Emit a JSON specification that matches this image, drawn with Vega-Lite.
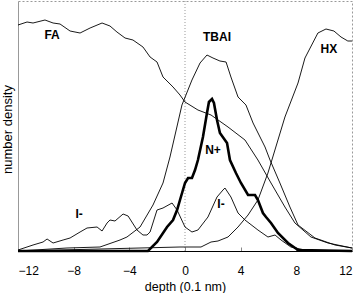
{
  "$schema": "https://vega.github.io/schema/vega-lite/v6.json",
  "width": 334,
  "height": 250,
  "autosize": {"type": "none"},
  "padding": {"left": 18, "top": 1, "right": 6, "bottom": 42},
  "background": "white",
  "config": {
    "view": {"stroke": "#999", "strokeDash": [2, 2], "strokeWidth": 1},
    "font": "Liberation Sans",
    "axis": {"labelFont": "Liberation Sans", "titleFont": "Liberation Sans", "grid": false}
  },
  "datasets": {
    "curves": [
      {"s": "FA", "x": -12, "y": 226}, {"s": "FA", "x": -11.35, "y": 229}, {"s": "FA", "x": -10.92, "y": 228}, {"s": "FA", "x": -10.06, "y": 231}, {"s": "FA", "x": -9.48, "y": 228}, {"s": "FA", "x": -8.98, "y": 227}, {"s": "FA", "x": -8.26, "y": 220}, {"s": "FA", "x": -7.54, "y": 218}, {"s": "FA", "x": -6.82, "y": 223}, {"s": "FA", "x": -5.96, "y": 228}, {"s": "FA", "x": -5.39, "y": 225}, {"s": "FA", "x": -4.89, "y": 219}, {"s": "FA", "x": -4.31, "y": 213}, {"s": "FA", "x": -3.74, "y": 211}, {"s": "FA", "x": -3.02, "y": 204}, {"s": "FA", "x": -2.51, "y": 194}, {"s": "FA", "x": -2.01, "y": 189}, {"s": "FA", "x": -1.58, "y": 174}, {"s": "FA", "x": -0.86, "y": 164}, {"s": "FA", "x": -0.36, "y": 156}, {"s": "FA", "x": 0, "y": 149}, {"s": "FA", "x": 0.93, "y": 141}, {"s": "FA", "x": 1.87, "y": 136}, {"s": "FA", "x": 3.09, "y": 124}, {"s": "FA", "x": 4.31, "y": 111}, {"s": "FA", "x": 5.24, "y": 91}, {"s": "FA", "x": 6.18, "y": 68}, {"s": "FA", "x": 7.18, "y": 44}, {"s": "FA", "x": 7.9, "y": 28}, {"s": "FA", "x": 9.05, "y": 14}, {"s": "FA", "x": 10.27, "y": 8}, {"s": "FA", "x": 12, "y": 3},
      {"s": "TBAI", "x": -12, "y": 0}, {"s": "TBAI", "x": -8.48, "y": 3}, {"s": "TBAI", "x": -6.11, "y": 4}, {"s": "TBAI", "x": -4.67, "y": 11}, {"s": "TBAI", "x": -4.17, "y": 14}, {"s": "TBAI", "x": -3.23, "y": 24}, {"s": "TBAI", "x": -2.3, "y": 46}, {"s": "TBAI", "x": -1.58, "y": 68}, {"s": "TBAI", "x": -1.08, "y": 94}, {"s": "TBAI", "x": -0.22, "y": 146}, {"s": "TBAI", "x": 0.5, "y": 171}, {"s": "TBAI", "x": 1.08, "y": 188}, {"s": "TBAI", "x": 1.58, "y": 196}, {"s": "TBAI", "x": 2.01, "y": 193}, {"s": "TBAI", "x": 2.51, "y": 190}, {"s": "TBAI", "x": 2.95, "y": 189}, {"s": "TBAI", "x": 3.3, "y": 174}, {"s": "TBAI", "x": 3.81, "y": 154}, {"s": "TBAI", "x": 4.38, "y": 146}, {"s": "TBAI", "x": 4.89, "y": 128}, {"s": "TBAI", "x": 5.75, "y": 104}, {"s": "TBAI", "x": 6.11, "y": 91}, {"s": "TBAI", "x": 6.82, "y": 68}, {"s": "TBAI", "x": 7.54, "y": 44}, {"s": "TBAI", "x": 8.12, "y": 26}, {"s": "TBAI", "x": 9.34, "y": 13}, {"s": "TBAI", "x": 10.78, "y": 6}, {"s": "TBAI", "x": 12, "y": 3},
      {"s": "HX", "x": -12, "y": 0}, {"s": "HX", "x": -6.11, "y": 2}, {"s": "HX", "x": -0.36, "y": 4}, {"s": "HX", "x": 1.15, "y": 4}, {"s": "HX", "x": 1.87, "y": 9}, {"s": "HX", "x": 2.37, "y": 10}, {"s": "HX", "x": 3.09, "y": 14}, {"s": "HX", "x": 3.81, "y": 24}, {"s": "HX", "x": 4.53, "y": 36}, {"s": "HX", "x": 5.24, "y": 51}, {"s": "HX", "x": 5.96, "y": 78}, {"s": "HX", "x": 6.68, "y": 111}, {"s": "HX", "x": 7.18, "y": 134}, {"s": "HX", "x": 8.12, "y": 168}, {"s": "HX", "x": 8.62, "y": 193}, {"s": "HX", "x": 9.55, "y": 218}, {"s": "HX", "x": 10.13, "y": 222}, {"s": "HX", "x": 10.7, "y": 220}, {"s": "HX", "x": 11.21, "y": 214}, {"s": "HX", "x": 11.7, "y": 210}, {"s": "HX", "x": 12, "y": 210},
      {"s": "I1", "x": -12, "y": 1}, {"s": "I1", "x": -10.92, "y": 6}, {"s": "I1", "x": -10.2, "y": 9}, {"s": "I1", "x": -9.91, "y": 12}, {"s": "I1", "x": -9.48, "y": 8}, {"s": "I1", "x": -8.76, "y": 11}, {"s": "I1", "x": -8.26, "y": 13}, {"s": "I1", "x": -7.54, "y": 19}, {"s": "I1", "x": -7.04, "y": 23}, {"s": "I1", "x": -6.32, "y": 24}, {"s": "I1", "x": -5.96, "y": 20}, {"s": "I1", "x": -5.6, "y": 28}, {"s": "I1", "x": -5.39, "y": 31}, {"s": "I1", "x": -5.03, "y": 30}, {"s": "I1", "x": -4.45, "y": 37}, {"s": "I1", "x": -4.09, "y": 35}, {"s": "I1", "x": -3.45, "y": 21}, {"s": "I1", "x": -3.02, "y": 16}, {"s": "I1", "x": -2.73, "y": 16}, {"s": "I1", "x": -2.51, "y": 19}, {"s": "I1", "x": -2.01, "y": 41}, {"s": "I1", "x": -1.58, "y": 43}, {"s": "I1", "x": -0.93, "y": 48}, {"s": "I1", "x": -0.57, "y": 41}, {"s": "I1", "x": 0, "y": 24}, {"s": "I1", "x": 0.5, "y": 19}, {"s": "I1", "x": 0.93, "y": 21}, {"s": "I1", "x": 1.65, "y": 34}, {"s": "I1", "x": 2.3, "y": 54}, {"s": "I1", "x": 2.73, "y": 61}, {"s": "I1", "x": 2.87, "y": 63}, {"s": "I1", "x": 3.3, "y": 54}, {"s": "I1", "x": 3.81, "y": 38}, {"s": "I1", "x": 4.31, "y": 31}, {"s": "I1", "x": 5.24, "y": 21}, {"s": "I1", "x": 5.96, "y": 14}, {"s": "I1", "x": 6.47, "y": 16}, {"s": "I1", "x": 6.9, "y": 11}, {"s": "I1", "x": 7.61, "y": 4}, {"s": "I1", "x": 8.62, "y": 1}, {"s": "I1", "x": 12, "y": 0},
      {"s": "N", "x": -12, "y": 0}, {"s": "N", "x": -2.66, "y": 0}, {"s": "N", "x": -2.01, "y": 9}, {"s": "N", "x": -1.29, "y": 24}, {"s": "N", "x": -0.86, "y": 31}, {"s": "N", "x": -0.57, "y": 41}, {"s": "N", "x": -0.36, "y": 51}, {"s": "N", "x": 0, "y": 68}, {"s": "N", "x": 0.22, "y": 73}, {"s": "N", "x": 0.5, "y": 73}, {"s": "N", "x": 0.72, "y": 81}, {"s": "N", "x": 0.93, "y": 91}, {"s": "N", "x": 1.29, "y": 114}, {"s": "N", "x": 1.58, "y": 138}, {"s": "N", "x": 1.72, "y": 149}, {"s": "N", "x": 1.94, "y": 152}, {"s": "N", "x": 2.08, "y": 148}, {"s": "N", "x": 2.3, "y": 131}, {"s": "N", "x": 2.51, "y": 118}, {"s": "N", "x": 3.02, "y": 108}, {"s": "N", "x": 3.23, "y": 91}, {"s": "N", "x": 3.66, "y": 78}, {"s": "N", "x": 4.02, "y": 68}, {"s": "N", "x": 4.53, "y": 56}, {"s": "N", "x": 5.03, "y": 56}, {"s": "N", "x": 5.24, "y": 51}, {"s": "N", "x": 5.6, "y": 38}, {"s": "N", "x": 5.82, "y": 34}, {"s": "N", "x": 6.18, "y": 28}, {"s": "N", "x": 6.68, "y": 18}, {"s": "N", "x": 7.4, "y": 8}, {"s": "N", "x": 8.12, "y": 1}, {"s": "N", "x": 12, "y": 0}
    ],
    "labels": [
      {"t": "FA", "x": -9.55, "y": 216},
      {"t": "TBAI", "x": 2.3, "y": 214},
      {"t": "HX", "x": 10.34, "y": 202},
      {"t": "N+", "x": 2.01, "y": 101},
      {"t": "I-", "x": -7.61, "y": 37},
      {"t": "I-", "x": 2.59, "y": 47}
    ],
    "zero": [{"x": 0}]
  },
  "layer": [
    {
      "data": {"name": "zero"},
      "mark": {"type": "rule", "color": "#999", "strokeDash": [1, 2], "strokeWidth": 1},
      "encoding": {"x": {"field": "x", "type": "quantitative", "scale": {"domain": [-12, 12]}}}
    },
    {
      "data": {"name": "curves"},
      "transform": [{"filter": "datum.s !== 'N'"}],
      "mark": {"type": "line", "color": "black", "strokeWidth": 0.9},
      "encoding": {
        "x": {"field": "x", "type": "quantitative", "scale": {"domain": [-12, 12], "nice": false},
          "axis": {"values": [-12, -8, -4, 0, 4, 8, 12], "title": "depth (0.1 nm)", "tickSize": -4, "tickColor": "#888", "domainColor": "black", "labelFontSize": 12, "labelColor": "black", "labelPadding": 18, "titleFontSize": 12.5, "titleFontWeight": "normal", "titleColor": "black", "titlePadding": 4}},
        "y": {"field": "y", "type": "quantitative", "scale": {"domain": [0, 250], "nice": false},
          "axis": {"labels": false, "ticks": false, "title": "number density", "domainColor": "#999", "titleFontSize": 13, "titleFontWeight": "normal", "titleColor": "black", "titlePadding": 4, "titleY": 128}},
        "detail": {"field": "s"}
      }
    },
    {
      "data": {"name": "curves"},
      "transform": [{"filter": "datum.s === 'N'"}],
      "mark": {"type": "line", "color": "black", "strokeWidth": 2.6},
      "encoding": {
        "x": {"field": "x", "type": "quantitative"},
        "y": {"field": "y", "type": "quantitative"}
      }
    },
    {
      "data": {"name": "labels"},
      "mark": {"type": "text", "font": "Liberation Sans", "fontWeight": "bold", "fontSize": 12, "color": "black"},
      "encoding": {
        "x": {"field": "x", "type": "quantitative"},
        "y": {"field": "y", "type": "quantitative"},
        "text": {"field": "t"}
      }
    }
  ]
}
